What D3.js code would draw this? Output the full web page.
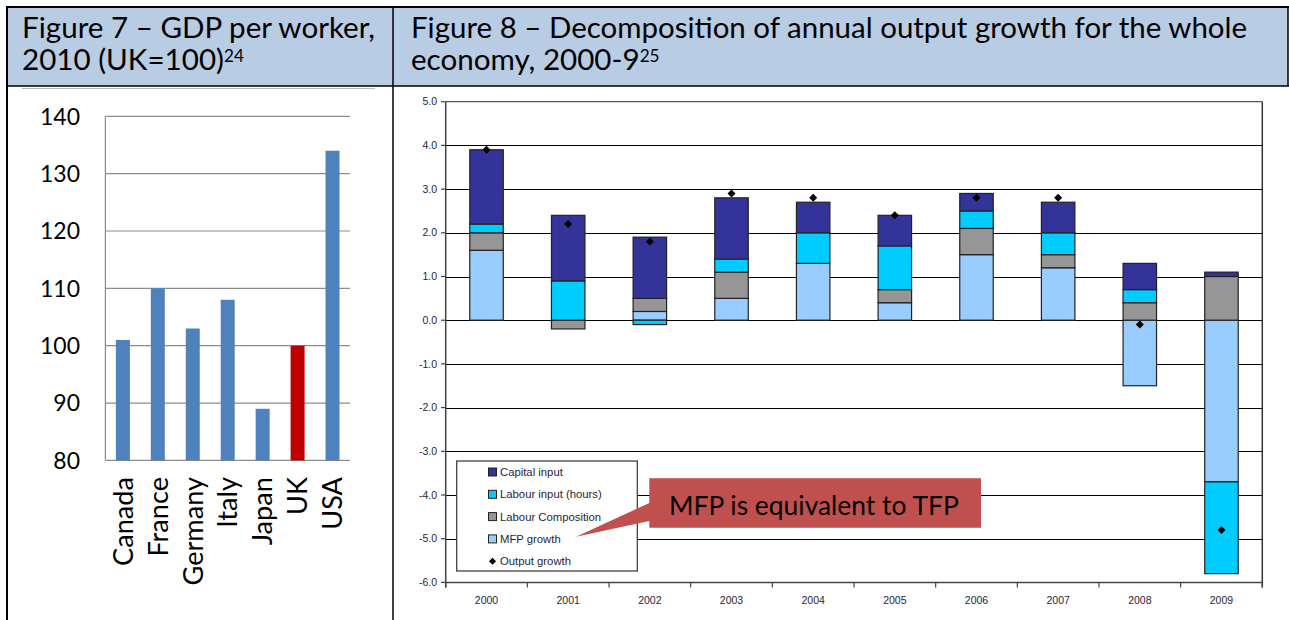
<!DOCTYPE html>
<html><head><meta charset="utf-8">
<script src="https://cdn.jsdelivr.net/npm/d3@7"></script>
<style>body{margin:0;background:#fff}svg{display:block}</style>
</head><body>
<svg id="c" width="1289" height="620"></svg>
<script>
// ---- Figure 7 data ----
const countries = ["Canada","France","Germany","Italy","Japan","UK","USA"];
const gdpPerWorker = [101,110,103,108,89,100,134];
const gdpTicks = [80,90,100,110,120,130,140];
// ---- Figure 8 data ----
const years = ["2000","2001","2002","2003","2004","2005","2006","2007","2008","2009"];
const mfpGrowth       = [1.6, 0.0, 0.2, 0.5, 1.3, 0.4, 1.5, 1.2, -1.5, -3.7];
const labourComp      = [0.4,-0.2, 0.3, 0.6, 0.0, 0.3, 0.6, 0.3,  0.4,  1.0];
const labourInput     = [0.2, 0.9,-0.1, 0.3, 0.7, 1.0, 0.4, 0.5,  0.3, -2.1];
const capitalInput    = [1.7, 1.5, 1.4, 1.4, 0.7, 0.7, 0.4, 0.7,  0.6,  0.1];
const outputGrowth    = [3.9, 2.2, 1.8, 2.9, 2.8, 2.4, 2.8, 2.8, -0.1, -4.8];
const growthTicks = [-6,-5,-4,-3,-2,-1,0,1,2,3,4,5];
const seriesNames = ["Capital input","Labour input (hours)","Labour Composition","MFP growth","Output growth"];

const svg = d3.select("#c");
const HF = "Lato, 'Open Sans', sans-serif";
const AF = "'Liberation Sans', Arial, sans-serif";

function fitText(sel, target){
  const n = sel.node(); const fs = parseFloat(sel.attr("font-size"));
  const w = n.getComputedTextLength();
  if (w > 0) sel.attr("font-size", (fs * target / w).toFixed(2));
  return sel;
}

// ---- table frame ----
svg.append("rect").attr("x",7).attr("y",7).attr("width",1281).attr("height",79).attr("fill","#b8cce4");
svg.append("line").attr("x1",7).attr("x2",1289).attr("y1",7).attr("y2",7).attr("stroke","#000").attr("stroke-width",2);
svg.append("line").attr("x1",7).attr("x2",1289).attr("y1",86).attr("y2",86).attr("stroke","#000").attr("stroke-width",1.5);
svg.append("line").attr("x1",7).attr("x2",7).attr("y1",6).attr("y2",620).attr("stroke","#000").attr("stroke-width",2);
svg.append("line").attr("x1",393).attr("x2",393).attr("y1",6).attr("y2",620).attr("stroke","#000").attr("stroke-width",1.5);
svg.append("line").attr("x1",1288).attr("x2",1288).attr("y1",6).attr("y2",86).attr("stroke","#000").attr("stroke-width",1.5);
svg.append("line").attr("x1",22).attr("x2",375).attr("y1",88.5).attr("y2",88.5).attr("stroke","#bbb").attr("stroke-width",1);

// ---- headers ----
const h1 = svg.append("text").attr("x",22).attr("y",37.5).attr("font-family",HF).attr("font-size",25).attr("fill","#000").text("Figure 7 – GDP per worker,");
fitText(h1, 353);
const hfs = +h1.attr("font-size");
const h2 = svg.append("text").attr("x",22).attr("y",69.5).attr("font-family",HF).attr("font-size",hfs).attr("fill","#000");
h2.append("tspan").text("2010 (UK=100)");
h2.append("tspan").attr("font-size",hfs*0.58).attr("dy",-8).text("24");
const h3 = svg.append("text").attr("x",411).attr("y",37.5).attr("font-family",HF).attr("font-size",hfs).attr("fill","#000").text("Figure 8 – Decomposition of annual output growth for the whole");
fitText(h3, 836);
const h4 = svg.append("text").attr("x",411).attr("y",69.5).attr("font-family",HF).attr("font-size",hfs).attr("fill","#000");
h4.append("tspan").text("economy, 2000-9");
h4.append("tspan").attr("font-size",hfs*0.58).attr("dy",-8).text("25");

// ---- Figure 7 chart ----
const y7 = d3.scaleLinear().domain([80,140]).range([460.4,116.3]);
const x7 = d3.scaleBand().domain(countries).range([105.4,350]).paddingInner(0.6).paddingOuter(0.3);
const g7 = svg.append("g");
g7.selectAll("line.grid").data(gdpTicks).join("line")
  .attr("x1",105.4).attr("x2",350).attr("y1",d=>y7(d)).attr("y2",d=>y7(d))
  .attr("stroke","#8c8c8c").attr("stroke-width",1.2);
g7.append("line").attr("x1",105.4).attr("x2",105.4).attr("y1",y7(140)).attr("y2",y7(80)).attr("stroke","#8c8c8c").attr("stroke-width",1.2);
const tl = g7.selectAll("text.tick").data(gdpTicks).join("text")
  .attr("x",80).attr("y",d=>y7(d)).attr("dy","0.36em").attr("text-anchor","end")
  .attr("font-family",HF).attr("font-size",23).attr("fill","#000").text(d=>d);
{ const n = tl.filter(d=>d===140); const w = n.node().getComputedTextLength(); const fs = 23*40/w; tl.attr("font-size",fs.toFixed(2)); }
g7.selectAll("rect.bar").data(countries).join("rect")
  .attr("x",d=>x7(d)).attr("width",x7.bandwidth())
  .attr("y",(d,i)=>y7(gdpPerWorker[i])).attr("height",(d,i)=>y7(80)-y7(gdpPerWorker[i]))
  .attr("fill",d=>d==="UK"?"#c00000":"#4f81bd");
const cl = g7.selectAll("text.cat").data(countries).join("text")
  .attr("transform",d=>`translate(${x7(d)+x7.bandwidth()/2},477) rotate(-90)`)
  .attr("dy","0.36em").attr("text-anchor","end")
  .attr("font-family",HF).attr("font-size",24).attr("fill","#000").text(d=>d);
{ const n = cl.filter(d=>d==="Canada"); const w = n.node().getComputedTextLength(); const fs = 24*89/w; cl.attr("font-size",fs.toFixed(2)); }

// ---- Figure 8 chart ----
const y8 = d3.scaleLinear().domain([-6,5]).range([582.4,101.7]);
const x8 = d3.scaleBand().domain(years).range([445.7,1262.3]).paddingInner(0.59).paddingOuter(0.295);
const g8 = svg.append("g");
g8.selectAll("line.grid").data(growthTicks.filter(d=>d>-6 && d<5)).join("line")
  .attr("x1",445.7).attr("x2",1262.3).attr("y1",d=>Math.round(y8(d))+0.5).attr("y2",d=>Math.round(y8(d))+0.5)
  .attr("stroke","#000").attr("stroke-width",1.2);
g8.append("line").attr("x1",445.7).attr("x2",1262.3).attr("y1",y8(5)).attr("y2",y8(5)).attr("stroke","#555").attr("stroke-width",1.2);
g8.append("line").attr("x1",1262.3).attr("x2",1262.3).attr("y1",y8(5)).attr("y2",y8(-6)+5).attr("stroke","#333").attr("stroke-width",1.5);
g8.append("line").attr("x1",445.7).attr("x2",445.7).attr("y1",y8(5)).attr("y2",y8(-6)+5).attr("stroke","#444").attr("stroke-width",1.5);
g8.append("line").attr("x1",445.7).attr("x2",1262.3).attr("y1",y8(-6)).attr("y2",y8(-6)).attr("stroke","#444").attr("stroke-width",1.5);
g8.selectAll("line.ytick").data(growthTicks).join("line")
  .attr("x1",441).attr("x2",445.7).attr("y1",d=>y8(d)).attr("y2",d=>y8(d)).attr("stroke","#444").attr("stroke-width",1.2);
g8.selectAll("text.ytl").data(growthTicks).join("text")
  .attr("x",437).attr("y",d=>y8(d)).attr("dy","0.35em").attr("text-anchor","end")
  .attr("font-family",AF).attr("font-size",10.5).attr("fill","#1f1f3a").text(d=>d.toFixed(1));
const step = x8.step();
g8.selectAll("line.xtick").data(d3.range(years.length+1)).join("line")
  .attr("x1",i=>x8(years[0]) - x8.paddingOuter()*step + i*step).attr("x2",i=>x8(years[0]) - x8.paddingOuter()*step + i*step)
  .attr("y1",y8(-6)).attr("y2",y8(-6)+5).attr("stroke","#444").attr("stroke-width",1.2);
g8.selectAll("text.xtl").data(years).join("text")
  .attr("x",d=>x8(d)+x8.bandwidth()/2).attr("y",604).attr("text-anchor","middle")
  .attr("font-family",AF).attr("font-size",10.5).attr("fill","#1f1f3a").text(d=>d);

// stacked bars
const keys = ["mfp","lc","li","cap"];
const colors = {mfp:"#99ccff", lc:"#969696", li:"#00ccff", cap:"#333399"};
const rows = years.map((y,i)=>({year:y, mfp:mfpGrowth[i], lc:labourComp[i], li:labourInput[i], cap:capitalInput[i]}));
const stacked = d3.stack().keys(keys).offset(d3.stackOffsetDiverging)(rows);
stacked.forEach(layer=>{
  g8.append("g").selectAll("rect").data(layer.filter(d=>d[1]!==d[0])).join("rect")
    .attr("x",d=>x8(d.data.year)).attr("width",x8.bandwidth())
    .attr("y",d=>y8(Math.max(d[0],d[1]))).attr("height",d=>Math.abs(y8(d[0])-y8(d[1])))
    .attr("fill",colors[layer.key]).attr("stroke","#222").attr("stroke-width",1.2);
});
// output growth markers
const diamond = "M0,-4L4,0L0,4L-4,0Z";
g8.selectAll("path.out").data(years).join("path")
  .attr("d",diamond).attr("fill","#000")
  .attr("transform",(d,i)=>`translate(${x8(d)+x8.bandwidth()/2},${y8(outputGrowth[i])})`);

// legend
const lg = svg.append("g");
lg.append("rect").attr("x",456.7).attr("y",461).attr("width",180.6).attr("height",110).attr("fill","#fff").attr("stroke","#333").attr("stroke-width",1.2);
const legendColors = ["#333399","#00ccff","#969696","#99ccff",null];
seriesNames.forEach((name,i)=>{
  const cy = 472 + i*22.3;
  if (legendColors[i]) {
    lg.append("rect").attr("x",488.5).attr("y",cy-4).attr("width",8).attr("height",8).attr("fill",legendColors[i]).attr("stroke","#222").attr("stroke-width",1);
  } else {
    lg.append("path").attr("d","M0,-3.5L3.5,0L0,3.5L-3.5,0Z").attr("fill","#000").attr("transform",`translate(492.5,${cy})`);
  }
  lg.append("text").attr("x",500).attr("y",cy).attr("dy","0.36em").attr("font-family",AF).attr("font-size",11.3).attr("fill","#1f1f3a").text(name);
});

// callout
const co = svg.append("g");
co.append("path").attr("d","M649.3,478.3 L981,478.3 L981,527.7 L649.3,527.7 L649.3,521 L576,536.7 L649.3,503 Z").attr("fill","#c0504d");
const ct = co.append("text").attr("x",669).attr("y",515).attr("font-family",HF).attr("font-size",24).attr("fill","#000").text("MFP is equivalent to TFP");
fitText(ct, 290);
</script>
</body></html>
